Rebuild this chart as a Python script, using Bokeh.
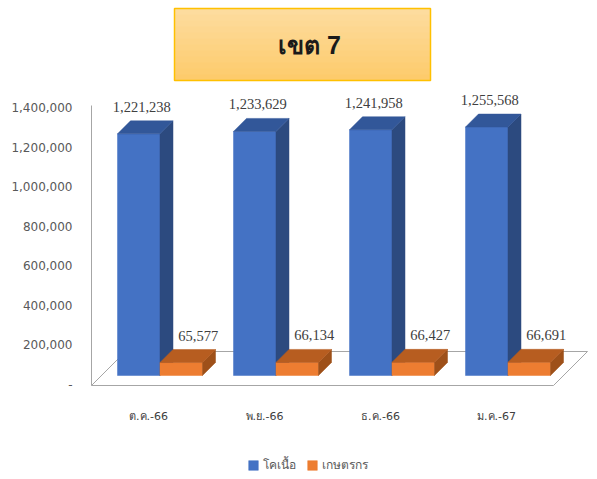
from bokeh.plotting import figure
from bokeh.models import (Range1d, FixedTicker, NumeralTickFormatter, Label,
                          BoxAnnotation, Legend, LegendItem, ColumnDataSource)
from bokeh.core.properties import value
from bokeh.embed import file_html
from bokeh.resources import INLINE

# ---------------- data ----------------
months = ["ต.ค.-66", "พ.ย.-66", "ธ.ค.-66", "ม.ค.-67"]
cattle = [1221238, 1233629, 1241958, 1255568]      # โคเนื้อ
farmers = [65577, 66134, 66427, 66691]              # เกษตรกร
series_names = ["โคเนื้อ", "เกษตรกร"]
title_text = "เขต 7"
y_ticks = [0, 200000, 400000, 600000, 800000, 1000000, 1200000, 1400000]

# ---------------- layout constants (pixels) ----------------
W, H = 597, 479
BL = 88                # frame left (canvas px)
PITCH = 116.0          # px between categories
TICK0 = 148.0          # canvas px of first category centre
ZERO_Y = 384.0         # canvas px of value 0 on the axis
YMAX = 1400000
PX_SPAN = 277.0        # px from 0 to YMAX

ux = 1.0 / PITCH
upy = YMAX / PX_SPAN


def X(px):
    return (px - TICK0) * ux


def Y(py):
    return (ZERO_Y - py) * upy


x_start, x_end = X(BL), X(W)
y_start, y_end = Y(H), Y(0)

BAR_LIFT = 9           # bars stand 9px above axis zero
DX, DY = 13, 13        # bar depth (px)
BAR_OFF = -31          # px from tick centre to blue bar's left edge
BAR_W = 42.5           # px

p = figure(width=W, height=H, output_backend="svg", toolbar_location=None,
           x_range=Range1d(x_start, x_end), y_range=Range1d(y_start, y_end),
           min_border_left=BL, min_border_right=0, min_border_top=0,
           min_border_bottom=0)
p.extra_y_ranges = {"bars": Range1d(y_start - BAR_LIFT * upy, y_end - BAR_LIFT * upy)}
p.outline_line_color = None
p.xgrid.visible = False
p.ygrid.visible = False
p.xaxis.visible = False
p.background_fill_color = "white"
p.border_fill_color = "white"

# ---------------- title box ----------------
TB_L, TB_R, TB_T, TB_B = 174, 430, 8, 80
c0 = (0xFD, 0xDC, 0x9E)
c1 = (0xFD, 0xCB, 0x6C)
NB = 12
for k in range(NB):
    f = k / (NB - 1)
    col = "#%02X%02X%02X" % tuple(int(round(a + (b - a) * f)) for a, b in zip(c0, c1))
    t = TB_T + (TB_B - TB_T) * k / NB
    b = TB_T + (TB_B - TB_T) * (k + 1) / NB
    p.add_layout(BoxAnnotation(left=X(TB_L), right=X(TB_R), top=Y(t), bottom=Y(b + 0.6),
                               fill_color=col, fill_alpha=1, line_color=None,
                               level="underlay"))
p.add_layout(BoxAnnotation(left=X(TB_L), right=X(TB_R), top=Y(TB_T), bottom=Y(TB_B),
                           fill_alpha=0, line_color="#FFC000", line_width=1.5,
                           line_alpha=1, level="underlay"))
p.add_layout(Label(x=X(309), y=Y(44), text=title_text,
                   text_align="center", text_baseline="middle",
                   text_font_size="25px", text_font_style="bold", text_color="#1A1A1A"))

# ---------------- floor / wall ----------------
FD = 34
p.patch([X(91), X(553), X(553 + FD), X(91 + FD)],
        [Y(385), Y(385), Y(385 - FD), Y(385 - FD)],
        fill_color="white", line_color="#A6A6A6", line_width=1)
p.segment(x0=[X(91)], y0=[Y(385)], x1=[X(91)], y1=[Y(105)],
          line_color="#A6A6A6", line_width=1)

# ---------------- bars ----------------
styles = [
    dict(front="#4472C4", side="#2C4A7F", top="#325799"),
    dict(front="#ED7D31", side="#9E5019", top="#B75D20"),
]
label_dx = [3, 17]
front_renderers = []
for s, vals in enumerate([cattle, farmers]):
    lefts = [i + (BAR_OFF + s * BAR_W) * ux for i in range(len(vals))]
    rights = [l + BAR_W * ux for l in lefts]
    st = styles[s]
    side_xs = [[r, r + DX * ux, r + DX * ux, r] for r in rights]
    side_ys = [[0, DY * upy, v + DY * upy, v] for v in vals]
    top_xs = [[l, r, r + DX * ux, l + DX * ux] for l, r in zip(lefts, rights)]
    top_ys = [[v, v, v + DY * upy, v + DY * upy] for v in vals]
    fr = p.quad(left=lefts, right=rights, bottom=[0] * len(vals), top=vals,
                y_range_name="bars", fill_color=st["front"], line_color=st["front"],
                line_width=0.5)
    p.patches(side_xs, side_ys, y_range_name="bars", fill_color=st["side"],
              line_color=st["side"], line_width=0.5)
    p.patches(top_xs, top_ys, y_range_name="bars", fill_color=st["top"],
              line_color=st["top"], line_width=0.5)
    front_renderers.append(fr)
    src = ColumnDataSource(dict(
        x=[(l + r) / 2 + label_dx[s] * ux for l, r in zip(lefts, rights)],
        y=[v + 27 * upy for v in vals],
        t=[f"{v:,}" for v in vals]))
    p.text(x="x", y="y", text="t", source=src, y_range_name="bars",
           text_align="center", text_baseline="middle",
           text_font=value("Liberation Serif"), text_font_size="14.5px",
           text_color="#404040")

# ---------------- category labels ----------------
msrc = ColumnDataSource(dict(x=list(range(len(months))),
                             y=[Y(416)] * len(months), t=months))
p.text(x="x", y="y", text="t", source=msrc, text_align="center",
       text_baseline="middle", text_font=value("DejaVu Sans"),
       text_font_size="11px", text_color="#404040")

# ---------------- y axis ----------------
p.yaxis.ticker = FixedTicker(ticks=y_ticks)
p.yaxis.formatter = NumeralTickFormatter(format="0,0")
p.yaxis.major_label_overrides = {0: "-"}
p.yaxis.axis_line_color = None
p.yaxis.major_tick_line_color = None
p.yaxis.minor_tick_line_color = None
p.yaxis.major_label_standoff = 10
p.yaxis.major_label_text_font = "DejaVu Sans"
p.yaxis.major_label_text_font_size = "12px"
p.yaxis.major_label_text_color = "#595959"

# ---------------- legend ----------------
legend = Legend(items=[LegendItem(label=series_names[0], renderers=[front_renderers[0]]),
                       LegendItem(label=series_names[1], renderers=[front_renderers[1]])],
                orientation="horizontal", location=(247 - BL, H - 474),
                glyph_width=12, glyph_height=12, label_standoff=4, spacing=10,
                padding=0, margin=0, border_line_color=None,
                background_fill_alpha=0, label_text_font_size="12px",
                label_text_color="#595959", label_height=12)
p.add_layout(legend, "center")

open("out.html", "w").write(file_html(p, INLINE))
